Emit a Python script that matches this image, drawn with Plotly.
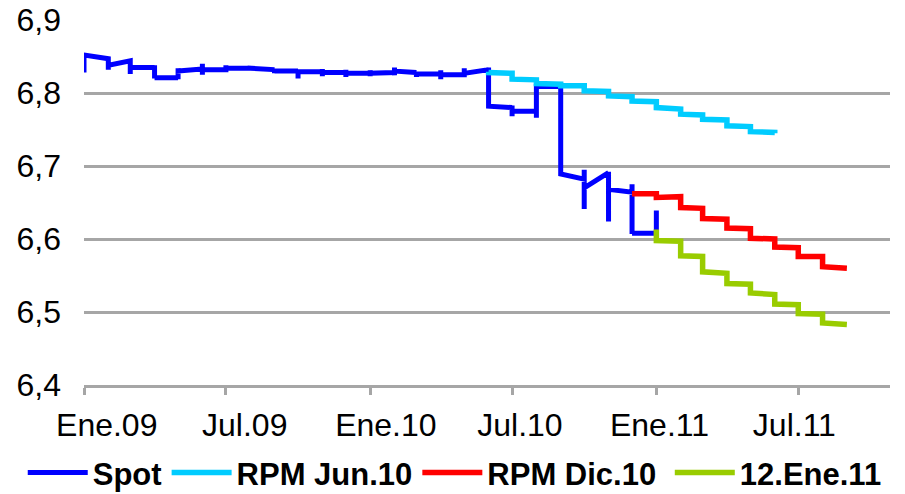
import plotly.graph_objects as go

# ---------------- data ----------------
# Spot: daily series drawn on a monthly base axis -> values traversed at each month
spot_months = ["2009-01", "2009-02", "2009-03", "2009-04", "2009-05", "2009-06",
               "2009-07", "2009-08", "2009-09", "2009-10", "2009-11", "2009-12",
               "2010-01", "2010-02", "2010-03", "2010-04", "2010-05", "2010-06",
               "2010-07", "2010-08", "2010-09", "2010-10", "2010-11", "2010-12",
               "2011-01"]
spot_values = [
    [6.828, 6.852],
    [6.847, 6.832, 6.838],
    [6.844, 6.826, 6.835],
    [6.835, 6.838, 6.820, 6.821],
    [6.821, 6.819, 6.834, 6.830],
    [6.833, 6.840, 6.825, 6.832],
    [6.832, 6.838, 6.830, 6.834],
    [6.834, 6.837, 6.832, 6.834],
    [6.832, 6.833, 6.827, 6.830],
    [6.830, 6.832, 6.820, 6.829],
    [6.829, 6.833, 6.823, 6.828],
    [6.828, 6.832, 6.822, 6.827],
    [6.827, 6.831, 6.823, 6.827],
    [6.828, 6.835, 6.824, 6.830],
    [6.828, 6.829, 6.822, 6.826],
    [6.826, 6.831, 6.819, 6.825],
    [6.825, 6.834, 6.823, 6.827],
    [6.832, 6.835, 6.782],
    [6.780, 6.783, 6.768, 6.775],
    [6.775, 6.766, 6.809],
    [6.809, 6.811, 6.689],
    [6.682, 6.695, 6.641, 6.670],
    [6.691, 6.692, 6.624, 6.668],
    [6.664, 6.675, 6.607, 6.608],
    [6.608, 6.639],
]

# RPM Jun.10: first / last value within each month
rpm_jun_months = ["2010-06", "2010-07", "2010-08", "2010-09", "2010-10", "2010-11",
                  "2010-12", "2011-01", "2011-02", "2011-03", "2011-04", "2011-05",
                  "2011-06"]
rpm_jun_first = [6.829, 6.827, 6.818, 6.812, 6.810, 6.802, 6.795, 6.788, 6.778,
                 6.770, 6.763, 6.754, 6.746]
rpm_jun_last = [6.828, 6.819, 6.813, 6.810, 6.803, 6.796, 6.789, 6.780, 6.771,
                6.764, 6.755, 6.747, 6.745]

# RPM Dic.10
rpm_dic_months = ["2010-12", "2011-01", "2011-02", "2011-03", "2011-04", "2011-05",
                  "2011-06", "2011-07", "2011-08", "2011-09"]
rpm_dic_first = [6.662, 6.662, 6.658, 6.642, 6.627, 6.614, 6.600, 6.588, 6.576, 6.561]
rpm_dic_last = [6.662, 6.657, 6.643, 6.628, 6.615, 6.601, 6.589, 6.576, 6.562, 6.560]

# 12.Ene.11
ene11_months = ["2011-01", "2011-02", "2011-03", "2011-04", "2011-05", "2011-06",
                "2011-07", "2011-08", "2011-09"]
ene11_first = [6.613, 6.597, 6.576, 6.553, 6.538, 6.524, 6.510, 6.497, 6.483]
ene11_last = [6.598, 6.577, 6.555, 6.539, 6.526, 6.511, 6.498, 6.485, 6.483]

series_names = ["Spot", "RPM Jun.10", "RPM Dic.10", "12.Ene.11"]
tick_dates = ["2009-01-01", "2009-07-01", "2010-01-01", "2010-07-01",
              "2011-01-01", "2011-07-01"]
tick_labels = ["Ene.09", "Jul.09", "Ene.10", "Jul.10", "Ene.11", "Jul.11"]
y_ticks = [6.4, 6.5, 6.6, 6.7, 6.8, 6.9]

# ---------------- build ----------------
def flatten(months, groups):
    xs, ys = [], []
    for m, g in zip(months, groups):
        for v in g:
            xs.append(m + "-01")
            ys.append(v)
    return xs, ys

colors = ["#0000FF", "#00CCFF", "#FF0000", "#99CC00"]
widths = [5, 5.5, 5.5, 5.5]
# invisible trailing padding to reproduce the legend entry spacing
legend_pad = ["", "", "\u00a0", ""]

data_sets = [
    flatten(spot_months, spot_values),
    flatten(rpm_jun_months, list(zip(rpm_jun_first, rpm_jun_last))),
    flatten(rpm_dic_months, list(zip(rpm_dic_first, rpm_dic_last))),
    flatten(ene11_months, list(zip(ene11_first, ene11_last))),
]

fig = go.Figure()
for (xs, ys), name, pad, c, w in zip(data_sets, series_names, legend_pad, colors, widths):
    fig.add_trace(go.Scatter(x=xs, y=ys, mode="lines", name=name + pad,
                             line=dict(color=c, width=w)))

FONT = "Liberation Sans, Arial, sans-serif"
label_pos = ["2009-01-30", "2009-07-25", "2010-01-21", "2010-07-11",
             "2011-01-05", "2011-06-26"]

fig.update_layout(
    width=905, height=494,
    margin=dict(l=76, r=23, t=12, b=117, autoexpand=False),
    paper_bgcolor="white", plot_bgcolor="white",
    separators=",.",
    font=dict(family=FONT, size=32, color="black"),
    showlegend=True,
    legend=dict(orientation="h", x=-0.076, xanchor="left", y=-0.241, yanchor="middle",
                font=dict(family=FONT, size=31, color="black", weight="bold"),
                itemwidth=60, tracegroupgap=0, bgcolor="rgba(0,0,0,0)"),
    xaxis=dict(
        type="date", range=["2009-01-01", "2011-10-26"], automargin=False,
        tickvals=label_pos, ticktext=tick_labels, ticks="",
        showgrid=False, zeroline=False,
        showline=True, linecolor="#A6A6A6", linewidth=2.5,
        tickfont=dict(family=FONT, size=32, color="black"),
        minor=dict(tickmode="array", tickvals=tick_dates, ticks="outside",
                   ticklen=7, tickwidth=2.5, tickcolor="#A6A6A6", showgrid=False),
        ticklabelstandoff=10, ticklabeloverflow="allow",
    ),
    yaxis=dict(
        range=[6.4, 6.9], tickvals=y_ticks, tickformat=".1f", automargin=False,
        showgrid=True, gridcolor="#A6A6A6", gridwidth=2.5,
        zeroline=False, showline=False, ticks="",
        tickfont=dict(family=FONT, size=32, color="black"),
        ticklabelstandoff=22, ticklabeloverflow="allow",
    ),
)

fig.write_html("out.html")
